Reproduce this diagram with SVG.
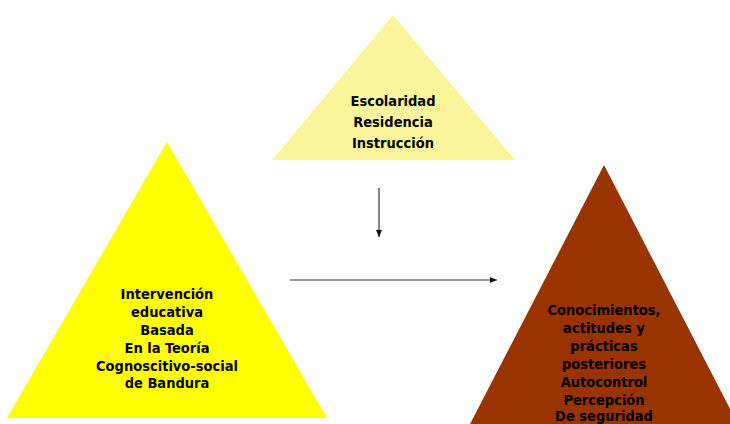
<svg xmlns="http://www.w3.org/2000/svg" width="730" height="424" viewBox="0 0 730 424">
<defs>
<marker id="ah" markerWidth="8" markerHeight="8" refX="7" refY="4" orient="auto" markerUnits="userSpaceOnUse">
<path d="M0,1 L7,4 L0,7 Z" fill="#111"/>
</marker>
<style>
.t{font-family:"DejaVu Sans Condensed","DejaVu Sans",sans-serif;font-weight:bold;font-size:14.5px;fill:#000;text-anchor:middle}
.c{stroke:#333;stroke-width:1.2;fill:none}
</style>
</defs>
<rect width="730" height="424" fill="#fff"/>
<g id="top">
<polygon points="393,15 272,160 515,160" fill="#FAF59A"/>
<text class="t" x="393" y="106">Escolaridad</text>
<text class="t" x="393" y="127">Residencia</text>
<text class="t" x="393" y="148">Instrucción</text>
</g>
<g id="left">
<polygon points="167,142 7,418 327,418" fill="#FFFF00"/>
<text class="t" x="167" y="299">Intervención</text>
<text class="t" x="167" y="317">educativa</text>
<text class="t" x="167" y="335">Basada</text>
<text class="t" x="167" y="353">En la Teoría</text>
<text class="t" x="167" y="371">Cognoscitivo-social</text>
<text class="t" x="167" y="388">de Bandura</text>
</g>
<g id="right">
<polygon points="604,165 468,428 740,428" fill="#993300"/>
<text class="t" x="604" y="315">Conocimientos,</text>
<text class="t" x="604" y="333">actitudes y</text>
<text class="t" x="604" y="351">prácticas</text>
<text class="t" x="604" y="369">posteriores</text>
<text class="t" x="604" y="387">Autocontrol</text>
<text class="t" x="604" y="405">Percepción</text>
<text class="t" x="604" y="421">De seguridad</text>
</g>
<g id="connectors">
<line class="c" x1="379" y1="188" x2="379" y2="237" marker-end="url(#ah)"/>
<line class="c" x1="290" y1="280" x2="497" y2="280" marker-end="url(#ah)"/>
</g>
</svg>
